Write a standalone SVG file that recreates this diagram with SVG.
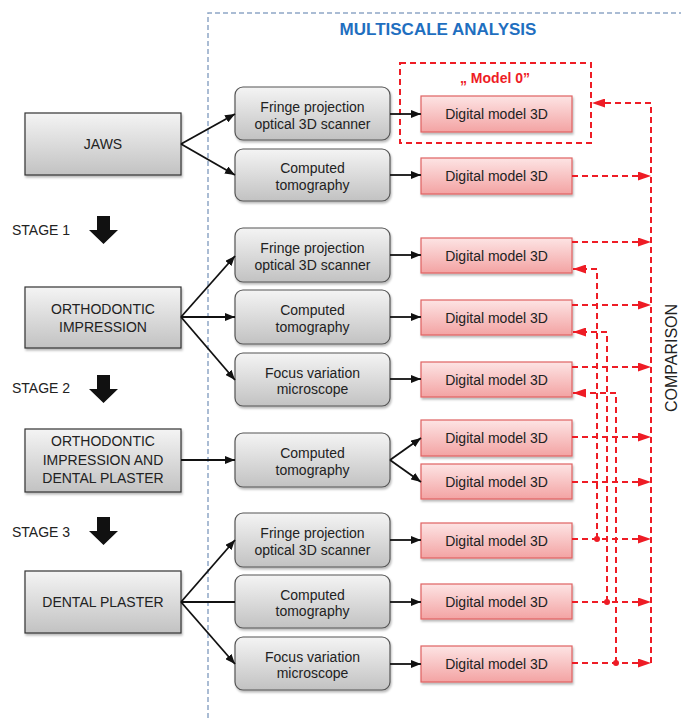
<svg xmlns="http://www.w3.org/2000/svg" width="681" height="718" viewBox="0 0 681 718">
  <defs>
    <linearGradient id="gGray" x1="0" y1="0" x2="0" y2="1">
      <stop offset="0" stop-color="#f4f4f4"/>
      <stop offset="1" stop-color="#c2c2c2"/>
    </linearGradient>
    <linearGradient id="gPink" x1="0" y1="0" x2="0" y2="1">
      <stop offset="0" stop-color="#fde4e4"/>
      <stop offset="1" stop-color="#f3a3a3"/>
    </linearGradient>
    <filter id="shadow" x="-10%" y="-10%" width="125%" height="140%">
      <feDropShadow dx="1" dy="2" stdDeviation="1.3" flood-color="#000" flood-opacity="0.28"/>
    </filter>
    <marker id="arrBlack" viewBox="0 0 10 8" refX="10" refY="4" markerWidth="10" markerHeight="8" markerUnits="userSpaceOnUse" orient="auto">
      <path d="M0,0 L10,4 L0,8 Z" fill="#111"/>
    </marker>
    <marker id="arrRed" viewBox="0 0 13 9" refX="13" refY="4.5" markerWidth="13" markerHeight="9" markerUnits="userSpaceOnUse" orient="auto">
      <path d="M0,0 L13,4.5 L0,9 Z" fill="#ee1c25"/>
    </marker>
  </defs>
  <style>
    text { font-family: "Liberation Sans", Arial, sans-serif; font-size: 14px; fill: #222; }
    .src rect { fill: url(#gGray); stroke: #333; stroke-width: 1.2; filter: url(#shadow); }
    .method rect { fill: url(#gGray); stroke: #555; stroke-width: 1.2; filter: url(#shadow); }
    .model rect { fill: url(#gPink); stroke: #e06262; stroke-width: 1.2; filter: url(#shadow); }
    .c { text-anchor: middle; }
    .title { font-size: 17px; font-weight: bold; fill: #1f6fc0; }
    .red-label { font-weight: bold; fill: #ee1c25; }
    .blk { fill: none; stroke: #111; stroke-width: 1.8; }
    .blk-a { fill: none; stroke: #111; stroke-width: 1.8; marker-end: url(#arrBlack); }
    .red { fill: none; stroke: #ee1c25; stroke-width: 2; stroke-dasharray: 6 4; }
    .red-a { fill: none; stroke: #ee1c25; stroke-width: 2; stroke-dasharray: 6 4; marker-end: url(#arrRed); }
    .stage-arrow { fill: #111; }
  </style>

  <!-- analysis region boundary -->
  <path d="M208,718 V13 H681" fill="none" stroke="#8fa7c6" stroke-width="1.5" stroke-dasharray="5 3"/>
  <text class="title c" x="438" y="35">MULTISCALE ANALYSIS</text>

  <!-- stage labels -->
  <g id="stage1">
    <text x="12" y="235">STAGE 1</text>
    <path class="stage-arrow" d="M97,216 H110 V230 H118 L103.5,244 L89,230 H97 Z"/>
  </g>
  <g id="stage2">
    <text x="12" y="393">STAGE 2</text>
    <path class="stage-arrow" d="M97,375 H110 V389 H118 L103.5,403 L89,389 H97 Z"/>
  </g>
  <g id="stage3">
    <text x="12" y="537">STAGE 3</text>
    <path class="stage-arrow" d="M97,517 H110 V531 H118 L103.5,545 L89,531 H97 Z"/>
  </g>

  <!-- sample nodes -->
  <g id="jaws" class="src">
    <rect x="25" y="113" width="156" height="62"/>
    <text class="c" x="103" y="149">JAWS</text>
  </g>
  <g id="ortho-impression" class="src">
    <rect x="25" y="287" width="156" height="61"/>
    <text class="c" x="103" y="314">ORTHODONTIC</text>
    <text class="c" x="103" y="332">IMPRESSION</text>
  </g>
  <g id="ortho-plaster" class="src">
    <rect x="25" y="429" width="156" height="63"/>
    <text class="c" x="103" y="446">ORTHODONTIC</text>
    <text class="c" x="103" y="464.5">IMPRESSION AND</text>
    <text class="c" x="103" y="483">DENTAL PLASTER</text>
  </g>
  <g id="dental-plaster" class="src">
    <rect x="25" y="571" width="156" height="62"/>
    <text class="c" x="103" y="607">DENTAL PLASTER</text>
  </g>

  <!-- measurement method nodes -->
  <g id="m1" class="method">
    <rect x="235" y="87" width="155" height="53" rx="8"/>
    <text class="c" x="312.5" y="112">Fringe projection</text>
    <text class="c" x="312.5" y="128.5">optical 3D scanner</text>
  </g>
  <g id="m2" class="method">
    <rect x="235" y="149" width="155" height="52" rx="8"/>
    <text class="c" x="312.5" y="173">Computed</text>
    <text class="c" x="312.5" y="189.5">tomography</text>
  </g>
  <g id="m3" class="method">
    <rect x="235" y="228" width="155" height="54" rx="8"/>
    <text class="c" x="312.5" y="253">Fringe projection</text>
    <text class="c" x="312.5" y="269.5">optical 3D scanner</text>
  </g>
  <g id="m4" class="method">
    <rect x="235" y="290" width="155" height="54" rx="8"/>
    <text class="c" x="312.5" y="315">Computed</text>
    <text class="c" x="312.5" y="331.5">tomography</text>
  </g>
  <g id="m5" class="method">
    <rect x="235" y="353" width="155" height="53" rx="8"/>
    <text class="c" x="312.5" y="377.5">Focus variation</text>
    <text class="c" x="312.5" y="394">microscope</text>
  </g>
  <g id="m6" class="method">
    <rect x="235" y="433" width="155" height="54" rx="8"/>
    <text class="c" x="312.5" y="458">Computed</text>
    <text class="c" x="312.5" y="474.5">tomography</text>
  </g>
  <g id="m7" class="method">
    <rect x="235" y="513" width="155" height="54" rx="8"/>
    <text class="c" x="312.5" y="538">Fringe projection</text>
    <text class="c" x="312.5" y="554.5">optical 3D scanner</text>
  </g>
  <g id="m8" class="method">
    <rect x="235" y="575" width="155" height="53" rx="8"/>
    <text class="c" x="312.5" y="599.5">Computed</text>
    <text class="c" x="312.5" y="616">tomography</text>
  </g>
  <g id="m9" class="method">
    <rect x="235" y="637" width="155" height="53" rx="8"/>
    <text class="c" x="312.5" y="661.5">Focus variation</text>
    <text class="c" x="312.5" y="678">microscope</text>
  </g>

  <!-- reference model frame -->
  <g id="model0">
    <rect x="400" y="63" width="191" height="80" fill="none" stroke="#ee1c25" stroke-width="2" stroke-dasharray="6 4"/>
    <text class="c red-label" x="495" y="83">„ Model 0”</text>
  </g>

  <!-- digital models -->
  <g id="d1" class="model"><rect x="421" y="96" width="151" height="36"/><text class="c" x="496.5" y="119">Digital model 3D</text></g>
  <g id="d2" class="model"><rect x="421" y="158" width="151" height="36"/><text class="c" x="496.5" y="181">Digital model 3D</text></g>
  <g id="d3" class="model"><rect x="421" y="238" width="151" height="35"/><text class="c" x="496.5" y="260.5">Digital model 3D</text></g>
  <g id="d4" class="model"><rect x="421" y="300" width="151" height="35"/><text class="c" x="496.5" y="322.5">Digital model 3D</text></g>
  <g id="d5" class="model"><rect x="421" y="362" width="151" height="35"/><text class="c" x="496.5" y="384.5">Digital model 3D</text></g>
  <g id="d6" class="model"><rect x="421" y="420" width="151" height="36"/><text class="c" x="496.5" y="443">Digital model 3D</text></g>
  <g id="d7" class="model"><rect x="421" y="464" width="151" height="35"/><text class="c" x="496.5" y="486.5">Digital model 3D</text></g>
  <g id="d8" class="model"><rect x="421" y="523" width="151" height="35"/><text class="c" x="496.5" y="545.5">Digital model 3D</text></g>
  <g id="d9" class="model"><rect x="421" y="584" width="151" height="35"/><text class="c" x="496.5" y="606.5">Digital model 3D</text></g>
  <g id="d10" class="model"><rect x="421" y="646" width="151" height="36"/><text class="c" x="496.5" y="669">Digital model 3D</text></g>

  <text class="c" x="677" y="358" transform="rotate(-90 677 358)" style="font-size:16px">COMPARISON</text>

  <!-- connectors -->
  <g id="connectors">
    <!-- samples to methods -->
    <path class="blk-a" d="M181,144 L235,114"/>
    <path class="blk-a" d="M181,144 L235,175"/>
    <path class="blk-a" d="M181,317 L235,256"/>
    <path class="blk-a" d="M181,317 L235,317"/>
    <path class="blk-a" d="M181,317 L235,380"/>
    <path class="blk-a" d="M181,460 L235,460"/>
    <path class="blk-a" d="M181,602 L235,540"/>
    <path class="blk" d="M181,602 L235,602"/>
    <path class="blk-a" d="M181,602 L235,664"/>

    <!-- methods to digital models -->
    <path class="blk-a" d="M390,114 L421,114"/>
    <path class="blk-a" d="M390,175 L421,175"/>
    <path class="blk-a" d="M390,255 L421,255"/>
    <path class="blk-a" d="M390,317 L421,317"/>
    <path class="blk-a" d="M390,379 L421,379"/>
    <path class="blk-a" d="M390,460 L421,438"/>
    <path class="blk-a" d="M390,460 L421,482"/>
    <path class="blk-a" d="M390,540 L421,540"/>
    <path class="blk-a" d="M390,602 L421,602"/>
    <path class="blk-a" d="M390,664 L421,664"/>

    <!-- comparison bus -->
    <path class="red" d="M651,663 V103"/>
    <path class="red-a" d="M651,103 H592"/>
    <path class="red-a" d="M572,176 H651"/>
    <path class="red-a" d="M572,242 H651"/>
    <path class="red-a" d="M572,305 H651"/>
    <path class="red-a" d="M572,367 H651"/>
    <path class="red-a" d="M572,437 H651"/>
    <path class="red-a" d="M572,482 H651"/>
    <path class="red-a" d="M572,539 H651"/>
    <path class="red-a" d="M572,602 H651"/>
    <path class="red-a" d="M572,663 H651"/>

    <!-- stage 3 back to stage 1 -->
    <path class="red-a" d="M597,539 V269 H573"/>
    <path class="red-a" d="M607,602 V332 H573"/>
    <path class="red-a" d="M616,663 V393 H573"/>
    <circle cx="597" cy="539" r="3" fill="#ee1c25"/>
    <circle cx="607" cy="602" r="3" fill="#ee1c25"/>
    <circle cx="616" cy="663" r="3" fill="#ee1c25"/>
  </g>
</svg>
